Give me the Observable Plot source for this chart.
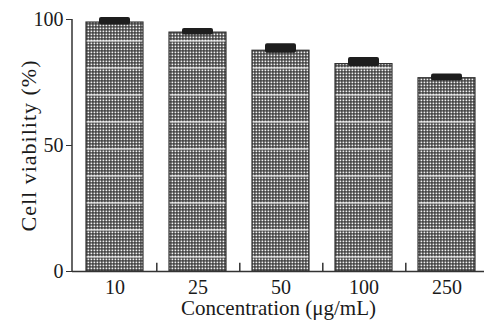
<!DOCTYPE html>
<html>
<head>
<meta charset="utf-8">
<script src="https://cdn.jsdelivr.net/npm/d3@7"></script>
<script src="https://cdn.jsdelivr.net/npm/@observablehq/plot@0.6"></script>
<style>
  html, body { margin: 0; padding: 0; background: #fff; }
  svg { display: block; }
  #chart svg text { font-size: 20px; fill: #1a1a1a; }
  #chart svg g[aria-label="y-axis label"] text { font-size: 22px; letter-spacing: 1px; fill: #1a1a1a; }
  #chart svg g[aria-label="x-axis label"] text { font-size: 21px; }
</style>
</head>
<body>
<div id="chart"></div>
<script>
const categories = ["10", "25", "50", "100", "250"];
const viability = [98.8, 94.8, 87.6, 82.3, 76.7];
const errors = [2.0, 1.6, 2.8, 2.6, 1.7];
const yTicks = [0, 50, 100];

const data = categories.map((c, i) => ({c, v: viability[i], e: errors[i]}));
const step = 418 / 5;

const plot = Plot.plot({
  width: 484,
  height: 325,
  marginLeft: 72,
  marginRight: 0,
  marginTop: 19,
  marginBottom: 54,
  style: {fontFamily: "'Liberation Serif', 'Times New Roman', serif", fontSize: "20px", color: "#1a1a1a", background: "#fff"},
  x: {domain: categories, range: [72, 490], paddingInner: 0.31, paddingOuter: 0.155, label: null},
  y: {domain: [0, 100], label: null},
  marks: [
    Plot.barY(data, {x: "c", y: "v", fill: "url(#halftone)", stroke: "#333", strokeWidth: 1.2}),
    Plot.rectY(data, {x: "c", y1: d => d.v - 1, y2: d => d.v + d.e, fill: "#1e1e1e", insetLeft: 13, insetRight: 13, rx: 2}),
    Plot.ruleX(categories.slice(0, 4), {x: d => d, y1: 0, y2: 3.3, dx: step / 2, stroke: "#333", strokeWidth: 1.5}),
    Plot.ruleY([0], {stroke: "#333", strokeWidth: 1.5}),
    Plot.axisY({ticks: yTicks, tickSize: 6, tickPadding: 3, label: "Cell viability (%)", labelAnchor: "center", labelArrow: "none", labelOffset: 52, stroke: "#333"}),
    Plot.axisX({tickSize: 0, tickPadding: 8, label: "Concentration (μg/mL)", labelAnchor: "center", labelArrow: "none", labelOffset: 43})
  ]
});

const svg = d3.select(plot);
const defs = svg.insert("defs", ":first-child");
const pat = defs.append("pattern")
  .attr("id", "halftone")
  .attr("patternUnits", "userSpaceOnUse")
  .attr("width", 3).attr("height", 27);
pat.append("rect").attr("width", 3).attr("height", 27).attr("fill", "#333");
for (let j = 0; j < 9; j++) {
  pat.append("rect").attr("x", 0.5).attr("y", j * 3 + 0.5).attr("width", 1.8).attr("height", 1.8).attr("fill", "#f2f2f2");
}
pat.append("rect").attr("x", 0).attr("y", 13).attr("width", 3).attr("height", 1.8).attr("fill", "#f6f6f6").attr("opacity", 0.65);

// y axis line
svg.append("line")
  .attr("x1", 72).attr("x2", 72).attr("y1", 19).attr("y2", 271)
  .attr("stroke", "#333").attr("stroke-width", 1.5);

document.getElementById("chart").appendChild(plot);
</script>
</body>
</html>
